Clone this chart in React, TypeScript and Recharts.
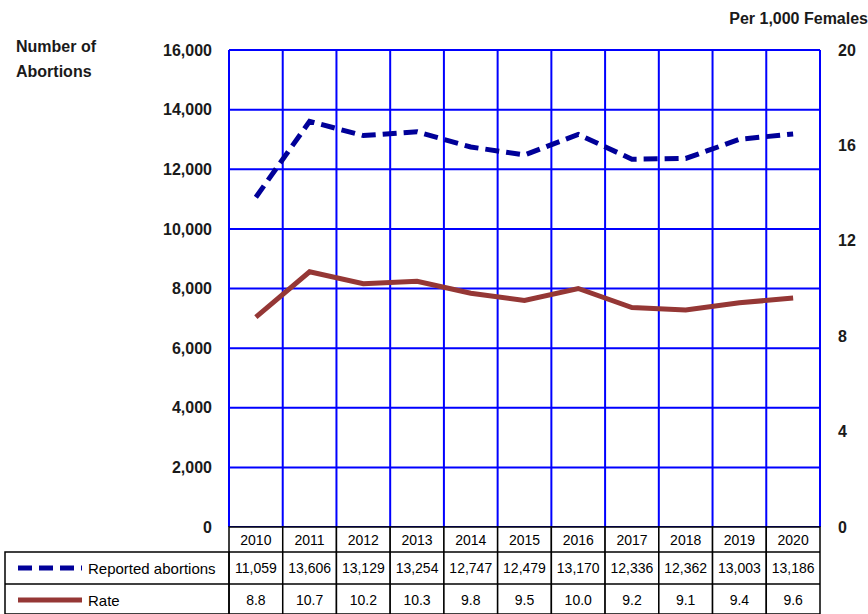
import React from 'react';
import { ComposedChart, Line, XAxis, YAxis, CartesianGrid } from 'recharts';

const years = ['2010', '2011', '2012', '2013', '2014', '2015', '2016', '2017', '2018', '2019', '2020'];
const abortions = [11059, 13606, 13129, 13254, 12747, 12479, 13170, 12336, 12362, 13003, 13186];
const rates = [8.8, 10.7, 10.2, 10.3, 9.8, 9.5, 10.0, 9.2, 9.1, 9.4, 9.6];
const leftTicks = [0, 2000, 4000, 6000, 8000, 10000, 12000, 14000, 16000];
const rightTicks = [0, 4, 8, 12, 16, 20];

const data = years.map((y, i) => ({ idx: i, year: y, abortions: abortions[i], rate: rates[i] }));
const centerTicks = years.map((_, i) => i);
const boundaryTicks = years.map((_, i) => i - 0.5).concat([years.length - 0.5]);

const W = 868;
const H = 614;
const PLOT_L = 229;
const PLOT_R = 820;
const PLOT_B = 527;
const ROW1 = 552;
const ROW2 = 584;
const CELL = (PLOT_R - PLOT_L) / years.length;
const FONT = '"Liberation Sans", Arial, sans-serif';
const NAVY = '#000099';
const RED = '#953735';

const fmt = (v: number) => v.toLocaleString('en-US');

const TableTick = (props: any) => {
  const { x, payload } = props;
  const i = payload.value as number;
  const left = x - CELL / 2;
  return (
    <g>
      <rect x={left} y={PLOT_B} width={CELL} height={H - PLOT_B} fill="#fff" stroke="#000" strokeWidth={1.5} />
      <line x1={left} x2={left + CELL} y1={ROW1} y2={ROW1} stroke="#000" strokeWidth={1.5} />
      <line x1={left} x2={left + CELL} y1={ROW2} y2={ROW2} stroke="#000" strokeWidth={1.5} />
      <text x={x} y={540} textAnchor="middle" dominantBaseline="central" fontSize={14} fill="#000" fontFamily={FONT}>
        {years[i]}
      </text>
      <text x={x} y={568} textAnchor="middle" dominantBaseline="central" fontSize={14} fill="#000" fontFamily={FONT}>
        {fmt(abortions[i])}
      </text>
      <text x={x} y={600} textAnchor="middle" dominantBaseline="central" fontSize={14} fill="#000" fontFamily={FONT}>
        {rates[i].toFixed(1)}
      </text>
    </g>
  );
};

export default function App() {
  return (
    <div style={{ position: 'absolute', left: 0, top: 0, width: W, height: H, background: '#fff', fontFamily: FONT }}>
      <ComposedChart width={W} height={H} data={data} margin={{ top: 50, right: 0, bottom: 0, left: 0 }}>
        <CartesianGrid xAxisId="grid" yAxisId="left" stroke="#0000ff" strokeWidth={2} strokeOpacity={1} />
        <XAxis
          xAxisId="grid"
          type="number"
          dataKey="idx"
          domain={[-0.5, years.length - 0.5]}
          ticks={boundaryTicks}
          interval={0}
          hide
        />
        <XAxis
          xAxisId="main"
          type="number"
          dataKey="idx"
          domain={[-0.5, years.length - 0.5]}
          ticks={centerTicks}
          interval={0}
          height={H - PLOT_B}
          axisLine={false}
          tickLine={false}
          tick={<TableTick />}
        />
        <YAxis
          yAxisId="left"
          orientation="left"
          width={PLOT_L}
          domain={[0, 16000]}
          ticks={leftTicks}
          interval={0}
          axisLine={false}
          tickLine={false}
          tickSize={0}
          tickMargin={17}
          tickFormatter={fmt}
          tick={{ fontSize: 16, fontWeight: 700, fill: '#1a1a1a', fontFamily: FONT }}
        />
        <YAxis
          yAxisId="right"
          orientation="right"
          width={W - PLOT_R}
          domain={[0, 20]}
          ticks={rightTicks}
          interval={0}
          axisLine={false}
          tickLine={false}
          tickSize={0}
          tickMargin={18}
          tick={{ fontSize: 16, fontWeight: 700, fill: '#1a1a1a', fontFamily: FONT, textAnchor: 'start' }}
        />
        <Line
          xAxisId="main"
          yAxisId="left"
          type="linear"
          dataKey="abortions"
          stroke={NAVY}
          strokeWidth={5}
          strokeDasharray="14 7"
          dot={false}
          isAnimationActive={false}
        />
        <Line
          xAxisId="main"
          yAxisId="right"
          type="linear"
          dataKey="rate"
          stroke={RED}
          strokeWidth={5}
          dot={false}
          isAnimationActive={false}
        />
      </ComposedChart>
      <svg
        width={W}
        height={H}
        style={{ position: 'absolute', left: 0, top: 0, pointerEvents: 'none' }}
      >
        <text x={16} y={52} fontSize={16} fontWeight={700} fill="#1a1a1a" fontFamily={FONT}>Number of</text>
        <text x={16} y={77} fontSize={16} fontWeight={700} fill="#1a1a1a" fontFamily={FONT}>Abortions</text>
        <text x={W} y={24} textAnchor="end" fontSize={16} fontWeight={700} fill="#1a1a1a" fontFamily={FONT}>Per 1,000 Females</text>
        <rect x={5} y={ROW1} width={PLOT_L - 5} height={H - ROW1} fill="none" stroke="#000" strokeWidth={1.5} />
        <line x1={5} x2={PLOT_L} y1={ROW2} y2={ROW2} stroke="#000" strokeWidth={1.5} />
        <line x1={18} x2={82} y1={568} y2={568} stroke={NAVY} strokeWidth={5} strokeDasharray="14 7" />
        <text x={88} y={568} dominantBaseline="central" fontSize={15} fill="#000" fontFamily={FONT}>Reported abortions</text>
        <line x1={18} x2={82} y1={600} y2={600} stroke={RED} strokeWidth={5} />
        <text x={88} y={600} dominantBaseline="central" fontSize={15} fill="#000" fontFamily={FONT}>Rate</text>
      </svg>
    </div>
  );
}
